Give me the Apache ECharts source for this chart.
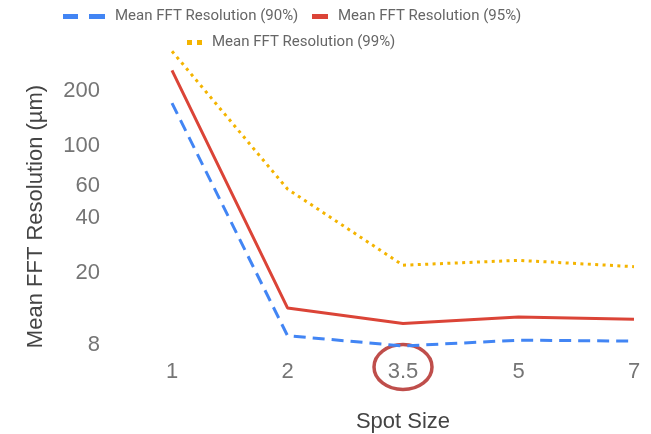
<!DOCTYPE html>
<html lang="en">
<head>
<meta charset="UTF-8">
<title>Mean FFT Resolution</title>
<script src="https://cdn.jsdelivr.net/npm/echarts@6/dist/echarts.min.js"></script>
<style>html,body{margin:0;padding:0;background:#fff}</style>
</head>
<body>
<div id="main" style="width:651px;height:434px"></div>
<script type="text/javascript">
    // spot sizes (x axis)
    var spotSizes = ['1', '2', '3.5', '5', '7'];
    // mean FFT resolution in um, per level
    var res90 = [172, 9.0, 7.9, 8.5, 8.4];
    var res95 = [260, 12.8, 10.5, 11.4, 11.1];
    var res99 = [332, 57.8, 22.0, 23.4, 21.6];
    // labels shown on the log y axis
    var yTicks = [8, 20, 40, 60, 100, 200];

    var names = ['Mean FFT Resolution (90%)', 'Mean FFT Resolution (95%)', 'Mean FFT Resolution (99%)'];
    var colors = ['#4285f4', '#db4437', '#f4b400'];
    var font = 'Liberation Sans, Arial, sans-serif';

    var chartDom = document.getElementById('main');
    var myChart = echarts.init(chartDom);

    var legendText = { color: '#666', fontSize: 15, fontFamily: 'Roboto, sans-serif', padding: [0, 0, 0, 5] };

    var option = {
        animation: false,
        legend: [
            {
                left: 58, top: 4, itemWidth: 42, itemHeight: 5,
                data: [{ name: names[0], icon: 'path://M0,0h15v5h-15z M26,0h16v5h-16z', itemStyle: { color: colors[0] } }],
                textStyle: legendText
            },
            {
                left: 307, top: 4, itemWidth: 16, itemHeight: 5,
                data: [{ name: names[1], icon: 'rect', itemStyle: { color: colors[1] } }],
                textStyle: legendText
            },
            {
                left: 182, top: 30, itemWidth: 15, itemHeight: 5,
                data: [{ name: names[2], icon: 'path://M0,0h5v5h-5z M10,0h5v5h-5z', itemStyle: { color: colors[2] } }],
                textStyle: legendText
            }
        ],
        grid: { left: 172, right: 17, top: 36.5, bottom: 78.5, outerBoundsMode: 'none' },
        xAxis: {
            type: 'category',
            data: spotSizes,
            boundaryGap: false,
            name: 'Spot Size',
            nameLocation: 'middle',
            nameGap: 55.5,
            nameTextStyle: { color: '#444', fontSize: 22, fontFamily: font },
            axisLine: { show: false },
            axisTick: { show: false },
            axisLabel: { color: '#757575', fontSize: 22, fontFamily: font, margin: 5.5 },
            splitLine: { show: false }
        },
        yAxis: {
            type: 'log',
            logBase: 10,
            min: 7,
            max: 400,
            name: 'Mean FFT Resolution (µm)',
            nameLocation: 'middle',
            nameGap: 125,
            nameTextStyle: { color: '#444', fontSize: 22, fontFamily: font, padding: [0, 41, 0, 0] },
            axisLine: { show: false },
            axisTick: { show: false },
            splitLine: { show: false },
            axisLabel: {
                color: '#757575', fontSize: 22, fontFamily: font, margin: 72,
                customValues: yTicks
            }
        },
        series: [
            {
                name: names[0], type: 'line', data: res90, symbol: 'none',
                lineStyle: { color: colors[0], width: 3, type: [12, 7] },
                itemStyle: { color: colors[0] }
            },
            {
                name: names[1], type: 'line', data: res95, symbol: 'none',
                lineStyle: { color: colors[1], width: 3 },
                itemStyle: { color: colors[1] }
            },
            {
                name: names[2], type: 'line', data: res99, symbol: 'none',
                lineStyle: { color: colors[2], width: 3, type: [3, 4.4], cap: 'butt' },
                itemStyle: { color: colors[2] }
            }
        ]
    };

    myChart.setOption(option);

    // red ring around the 3.5 label
    var cx = myChart.convertToPixel({ xAxisIndex: 0 }, '3.5');
    var axisY = myChart.convertToPixel({ yAxisIndex: 0 }, 7);
    myChart.setOption({
        graphic: [{
            type: 'ellipse',
            shape: { cx: cx, cy: axisY + 11.5, rx: 29, ry: 22.5 },
            style: { fill: 'none', stroke: '#bf4e4b', lineWidth: 3.5 }
        }]
    });
</script>
</body>
</html>
